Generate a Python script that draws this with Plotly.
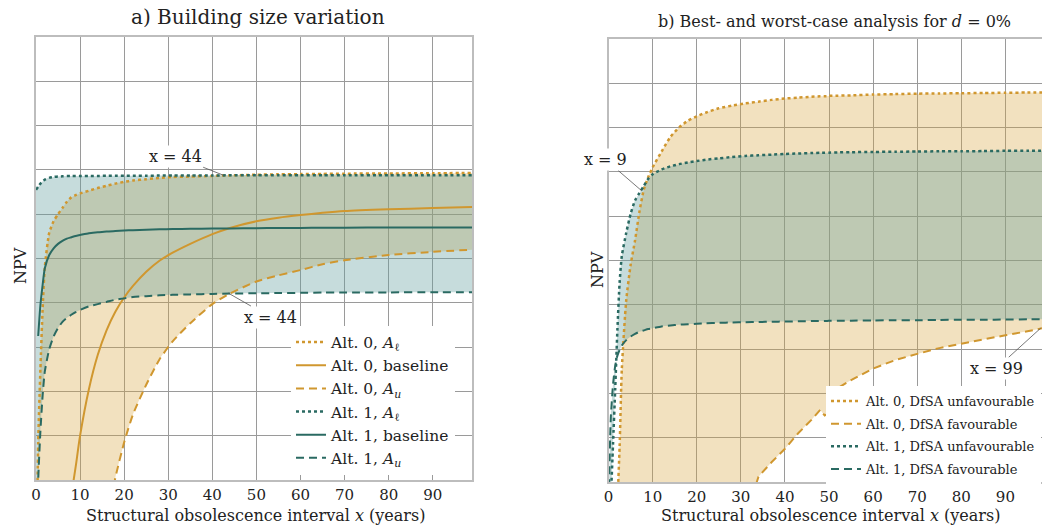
import plotly.graph_objects as go

W, H = 1042, 529
FONT = "DejaVu Serif"

# ---------------- panel a) Building size variation ----------------
xa = [0, 0.5, 1, 1.5, 2, 3, 4, 5, 6, 7, 8, 9, 10, 12, 14, 16, 18, 20, 22, 25,
      28, 31, 35, 40, 44, 50, 55, 60, 65, 70, 80, 90, 99]
a_alt0_l = [-3.0, 0.85, 2.5, 3.85, 4.8, 5.58, 5.84, 6.0, 6.14, 6.28, 6.38, 6.43, 6.47,
            6.53, 6.59, 6.64, 6.69, 6.73, 6.76, 6.79, 6.82, 6.84, 6.85, 6.865, 6.877,
            6.89, 6.90, 6.905, 6.91, 6.915, 6.92, 6.925, 6.93]
a_alt0_base = [-15, -14, -12, -10, -8.5, -6, -4.3, -3, -1.9, -1.0, -0.35, 0.3, 1.0,
               2.05, 2.82, 3.38, 3.80, 4.12, 4.38, 4.70, 4.95, 5.13, 5.33, 5.55, 5.69,
               5.84, 5.92, 5.98, 6.03, 6.07, 6.11, 6.14, 6.16]
a_alt0_u = [-30, -29, -27, -25, -23, -20, -17.5, -15, -13, -11, -9.3, -7.8, -6.4,
            -4.2, -2.4, -1.0, 0.05, 0.85, 1.48, 2.15, 2.72, 3.13, 3.54, 3.97, 4.21,
            4.48, 4.62, 4.74, 4.87, 4.96, 5.08, 5.15, 5.20]
a_alt1_l = [6.55, 6.62, 6.69, 6.74, 6.78, 6.82, 6.84, 6.85, 6.855, 6.86, 6.86, 6.86,
            6.86, 6.862, 6.864, 6.866, 6.867, 6.868, 6.869, 6.87, 6.871, 6.872, 6.873,
            6.875, 6.877, 6.878, 6.879, 6.88, 6.88, 6.88, 6.88, 6.88, 6.88]
a_alt1_base = [None, 3.25, 3.95, 4.40, 4.78, 5.08, 5.23, 5.33, 5.40, 5.45, 5.48, 5.51,
               5.53, 5.57, 5.59, 5.61, 5.62, 5.63, 5.64, 5.65, 5.66, 5.665, 5.67,
               5.675, 5.68, 5.685, 5.69, 5.69, 5.695, 5.695, 5.70, 5.70, 5.70]
a_alt1_u = [-2.0, 0.0, 1.1, 1.9, 2.45, 2.95, 3.24, 3.43, 3.57, 3.66, 3.73, 3.79, 3.84,
            3.92, 3.97, 4.02, 4.07, 4.10, 4.13, 4.15, 4.17, 4.18, 4.19, 4.20, 4.21,
            4.215, 4.22, 4.225, 4.23, 4.23, 4.235, 4.24, 4.24]

# ---------------- panel b) Best- and worst-case analysis ----------------
xb = [0, 0.25, 0.5, 1, 1.5, 2, 2.5, 3, 4, 5, 6, 7, 8, 9, 10, 12, 14, 16, 18, 20, 22,
      25, 28, 31, 34, 37, 40, 43, 46, 48, 49, 49.9, 50, 52, 55, 60, 65, 70, 75, 80,
      85, 90, 95, 99]
b_alt0_unfav = [-5, -4, -3.2, -2, -1, -0.4, 0.8, 2.55, 4.1, 4.9, 5.45, 6.1, 6.6, 6.88,
                7.1, 7.45, 7.78, 8.0, 8.15, 8.25, 8.33, 8.43, 8.49, 8.54, 8.58, 8.62,
                8.65, 8.67, 8.69, 8.70, 8.70, 8.705, 8.71, 8.715, 8.72, 8.74, 8.75,
                8.76, 8.765, 8.77, 8.775, 8.78, 8.785, 8.79]
b_alt0_fav = [-40, -39, -38, -36, -34, -32, -30, -29, -27, -25, -23, -21, -19.5, -18,
              -16.5, -14, -11.5, -9.5, -7.7, -6.1, -4.8, -3.1, -1.8, -0.8, 0.12, 0.45,
              0.75, 1.1, 1.4, 1.63, 1.5, 1.55, 2.0, 2.12, 2.3, 2.56, 2.75, 2.89, 3.02,
              3.12, 3.22, 3.31, 3.4, 3.48]
b_alt1_unfav = [-2, -1.0, -0.4, 0.85, 2.1, 3.45, 4.5, 5.1, 5.62, 6.05, 6.35, 6.52,
                6.68, 6.84, 6.94, 7.05, 7.12, 7.17, 7.21, 7.24, 7.27, 7.3, 7.33, 7.355,
                7.37, 7.385, 7.40, 7.41, 7.42, 7.425, 7.425, 7.43, 7.43, 7.435, 7.44,
                7.445, 7.45, 7.455, 7.46, 7.46, 7.465, 7.47, 7.47, 7.475]
b_alt1_fav = [-1.0, 0.6, 1.45, 2.2, 2.62, 2.85, 2.98, 3.08, 3.2, 3.28, 3.34, 3.39, 3.42,
              3.45, 3.47, 3.51, 3.53, 3.55, 3.56, 3.57, 3.58, 3.59, 3.60, 3.605, 3.61,
              3.615, 3.62, 3.625, 3.63, 3.63, 3.63, 3.635, 3.635, 3.64, 3.64, 3.645,
              3.65, 3.65, 3.655, 3.66, 3.66, 3.665, 3.67, 3.67]

for arr in (a_alt0_l, a_alt0_base, a_alt0_u, a_alt1_l, a_alt1_base, a_alt1_u):
    assert len(arr) == len(xa), len(arr)
for arr in (b_alt0_unfav, b_alt0_fav, b_alt1_unfav, b_alt1_fav):
    assert len(arr) == len(xb), len(arr)

x_ticks = [0, 10, 20, 30, 40, 50, 60, 70, 80, 90]

ORANGE = "#D0972F"
TEAL = "#2A6A62"
TAN_FILL = "rgba(215,165,60,0.33)"
TEAL_FILL = "rgba(100,160,160,0.37)"
DOT = "dot"
DASH = "8px,5px"
SMOOTH = 0.6

fig = go.Figure()


def band(x, lo, hi, color, xa_, ya_, lo_shape="spline", hi_shape="spline"):
    fig.add_trace(go.Scatter(x=x, y=lo, mode="lines",
                             line=dict(width=0, shape=lo_shape, smoothing=SMOOTH),
                             showlegend=False, hoverinfo="skip", xaxis=xa_, yaxis=ya_))
    fig.add_trace(go.Scatter(x=x, y=hi, mode="lines",
                             line=dict(width=0, shape=hi_shape, smoothing=SMOOTH),
                             fill="tonexty", fillcolor=color, showlegend=False,
                             hoverinfo="skip", xaxis=xa_, yaxis=ya_))


def line(x, y, color, dash, width, name, xa_, ya_, legend, shape="spline"):
    fig.add_trace(go.Scatter(x=x, y=y, mode="lines", name=name, legendgroup=name,
                             line=dict(color=color, dash=dash, width=width, shape=shape,
                                       smoothing=SMOOTH),
                             xaxis=xa_, yaxis=ya_, legend=legend, connectgaps=False))


# panel a fills
band(xa, a_alt0_u, a_alt0_l, TAN_FILL, "x", "y")
band(xa, a_alt1_u, a_alt1_l, TEAL_FILL, "x", "y")
# panel b fills
band(xb, b_alt0_fav, b_alt0_unfav, TAN_FILL, "x2", "y2", lo_shape="linear")
band(xb, b_alt1_fav, b_alt1_unfav, TEAL_FILL, "x2", "y2")

# panel a lines
line(xa, a_alt0_l, ORANGE, DOT, 2.5, "Alt. 0, <i>A</i><sub>ℓ</sub>", "x", "y", "legend")
line(xa, a_alt0_base, ORANGE, "solid", 2, "Alt. 0, baseline", "x", "y", "legend")
line(xa, a_alt0_u, ORANGE, DASH, 2, "Alt. 0, <i>A</i><sub><i>u</i></sub>", "x", "y", "legend")
line(xa, a_alt1_l, TEAL, DOT, 2.5, "Alt. 1, <i>A</i><sub>ℓ</sub>", "x", "y", "legend")
line(xa, a_alt1_base, TEAL, "solid", 2, "Alt. 1, baseline", "x", "y", "legend")
line(xa, a_alt1_u, TEAL, DASH, 2, "Alt. 1, <i>A</i><sub><i>u</i></sub>", "x", "y", "legend")

# panel b lines
line(xb, b_alt0_unfav, ORANGE, DOT, 2.5, "Alt. 0, DfSA unfavourable", "x2", "y2", "legend2")
line(xb, b_alt0_fav, ORANGE, DASH, 2, "Alt. 0, DfSA favourable", "x2", "y2", "legend2",
     shape="linear")
line(xb, b_alt1_unfav, TEAL, DOT, 2.5, "Alt. 1, DfSA unfavourable", "x2", "y2", "legend2")
line(xb, b_alt1_fav, TEAL, DASH, 2, "Alt. 1, DfSA favourable", "x2", "y2", "legend2")

GRID = "#9a9a9a"
FRAME = "#bdbdbd"
common_x = dict(tickmode="array", tickvals=x_ticks, ticktext=[str(t) for t in x_ticks],
                showgrid=True, gridcolor=GRID, gridwidth=1, zeroline=False,
                showline=True, linecolor=FRAME, linewidth=1.5, mirror=True,
                ticks="", tickfont=dict(family=FONT, size=15, color="#222"))
common_y = dict(range=[0, 10], dtick=1, showgrid=True, gridcolor=GRID, gridwidth=1,
                zeroline=False, showticklabels=False, showline=True, linecolor=FRAME,
                linewidth=1.5, mirror=True, ticks="")


def px_x(p):
    return p / W


def px_y(p):
    return 1 - p / H


fig.update_layout(
    width=W, height=H, autosize=False,
    margin=dict(l=0, r=0, t=0, b=0, autoexpand=False),
    paper_bgcolor="white", plot_bgcolor="white",
    font=dict(family=FONT, color="#222"),
    xaxis=dict(domain=[px_x(36), px_x(472)], range=[0, 98.9], anchor="y", **common_x),
    yaxis=dict(domain=[px_y(480), px_y(37)], anchor="x", **common_y),
    xaxis2=dict(domain=[px_x(608.6), 1.0], range=[0, 98.3], anchor="y2", **common_x),
    yaxis2=dict(domain=[px_y(482), px_y(38.7)], anchor="x2", **common_y),
    legend=dict(x=px_x(291), y=px_y(325.5), xanchor="left", yanchor="top",
                bgcolor="white", borderwidth=0, traceorder="normal",
                font=dict(family=FONT, size=15.5, color="#222"),
                tracegroupgap=0, itemwidth=30),
    legend2=dict(x=px_x(826), y=px_y(386), xanchor="left", yanchor="top",
                 bgcolor="white", borderwidth=0, traceorder="grouped",
                 font=dict(family=FONT, size=13, color="#222"),
                 tracegroupgap=2.8, itemwidth=30),
    showlegend=True,
)

ann = []
# titles
ann.append(dict(text="a) Building size variation", x=px_x(258), y=px_y(17),
                xref="paper", yref="paper", showarrow=False, xanchor="center",
                yanchor="middle", font=dict(family=FONT, size=20, color="#222")))
ann.append(dict(text="b) Best- and worst-case analysis for <i>d</i> = 0%", x=px_x(834),
                y=px_y(22), xref="paper", yref="paper", showarrow=False,
                xanchor="center", yanchor="middle",
                font=dict(family=FONT, size=16, color="#222")))
# axis titles
for cx in (255, 830):
    ann.append(dict(text="Structural obsolescence interval <i>x</i> (years)", x=px_x(cx),
                    y=px_y(515), xref="paper", yref="paper", showarrow=False,
                    xanchor="center", yanchor="middle",
                    font=dict(family=FONT, size=16, color="#222")))
for cx, cy in ((20, 266), (597, 270)):
    ann.append(dict(text="NPV", x=px_x(cx), y=px_y(cy), xref="paper", yref="paper",
                    showarrow=False, textangle=-90, xanchor="center", yanchor="middle",
                    font=dict(family=FONT, size=16, color="#222")))

# crossing annotations
cross = [
    ("x = 44", "x", "y", 42.5, 6.88, -48, -19),
    ("x = 44", "x", "y", 43.6, 4.22, 42, 24),
    ("x = 9", "x2", "y2", 7.5, 6.57, -36, -31),
    ("x = 99", "x2", "y2", 98.0, 3.47, -44, 40),
]
for txt, xr, yr, xv, yv, axp, ayp in cross:
    ann.append(dict(text=txt, x=xv, y=yv, xref=xr, yref=yr, ax=axp, ay=ayp,
                    showarrow=True, arrowhead=0, arrowwidth=0.8, arrowcolor="#555",
                    bgcolor="white", font=dict(family=FONT, size=16, color="#222")))

fig.update_layout(annotations=ann)
fig.write_html("out.html", config={"responsive": False})
